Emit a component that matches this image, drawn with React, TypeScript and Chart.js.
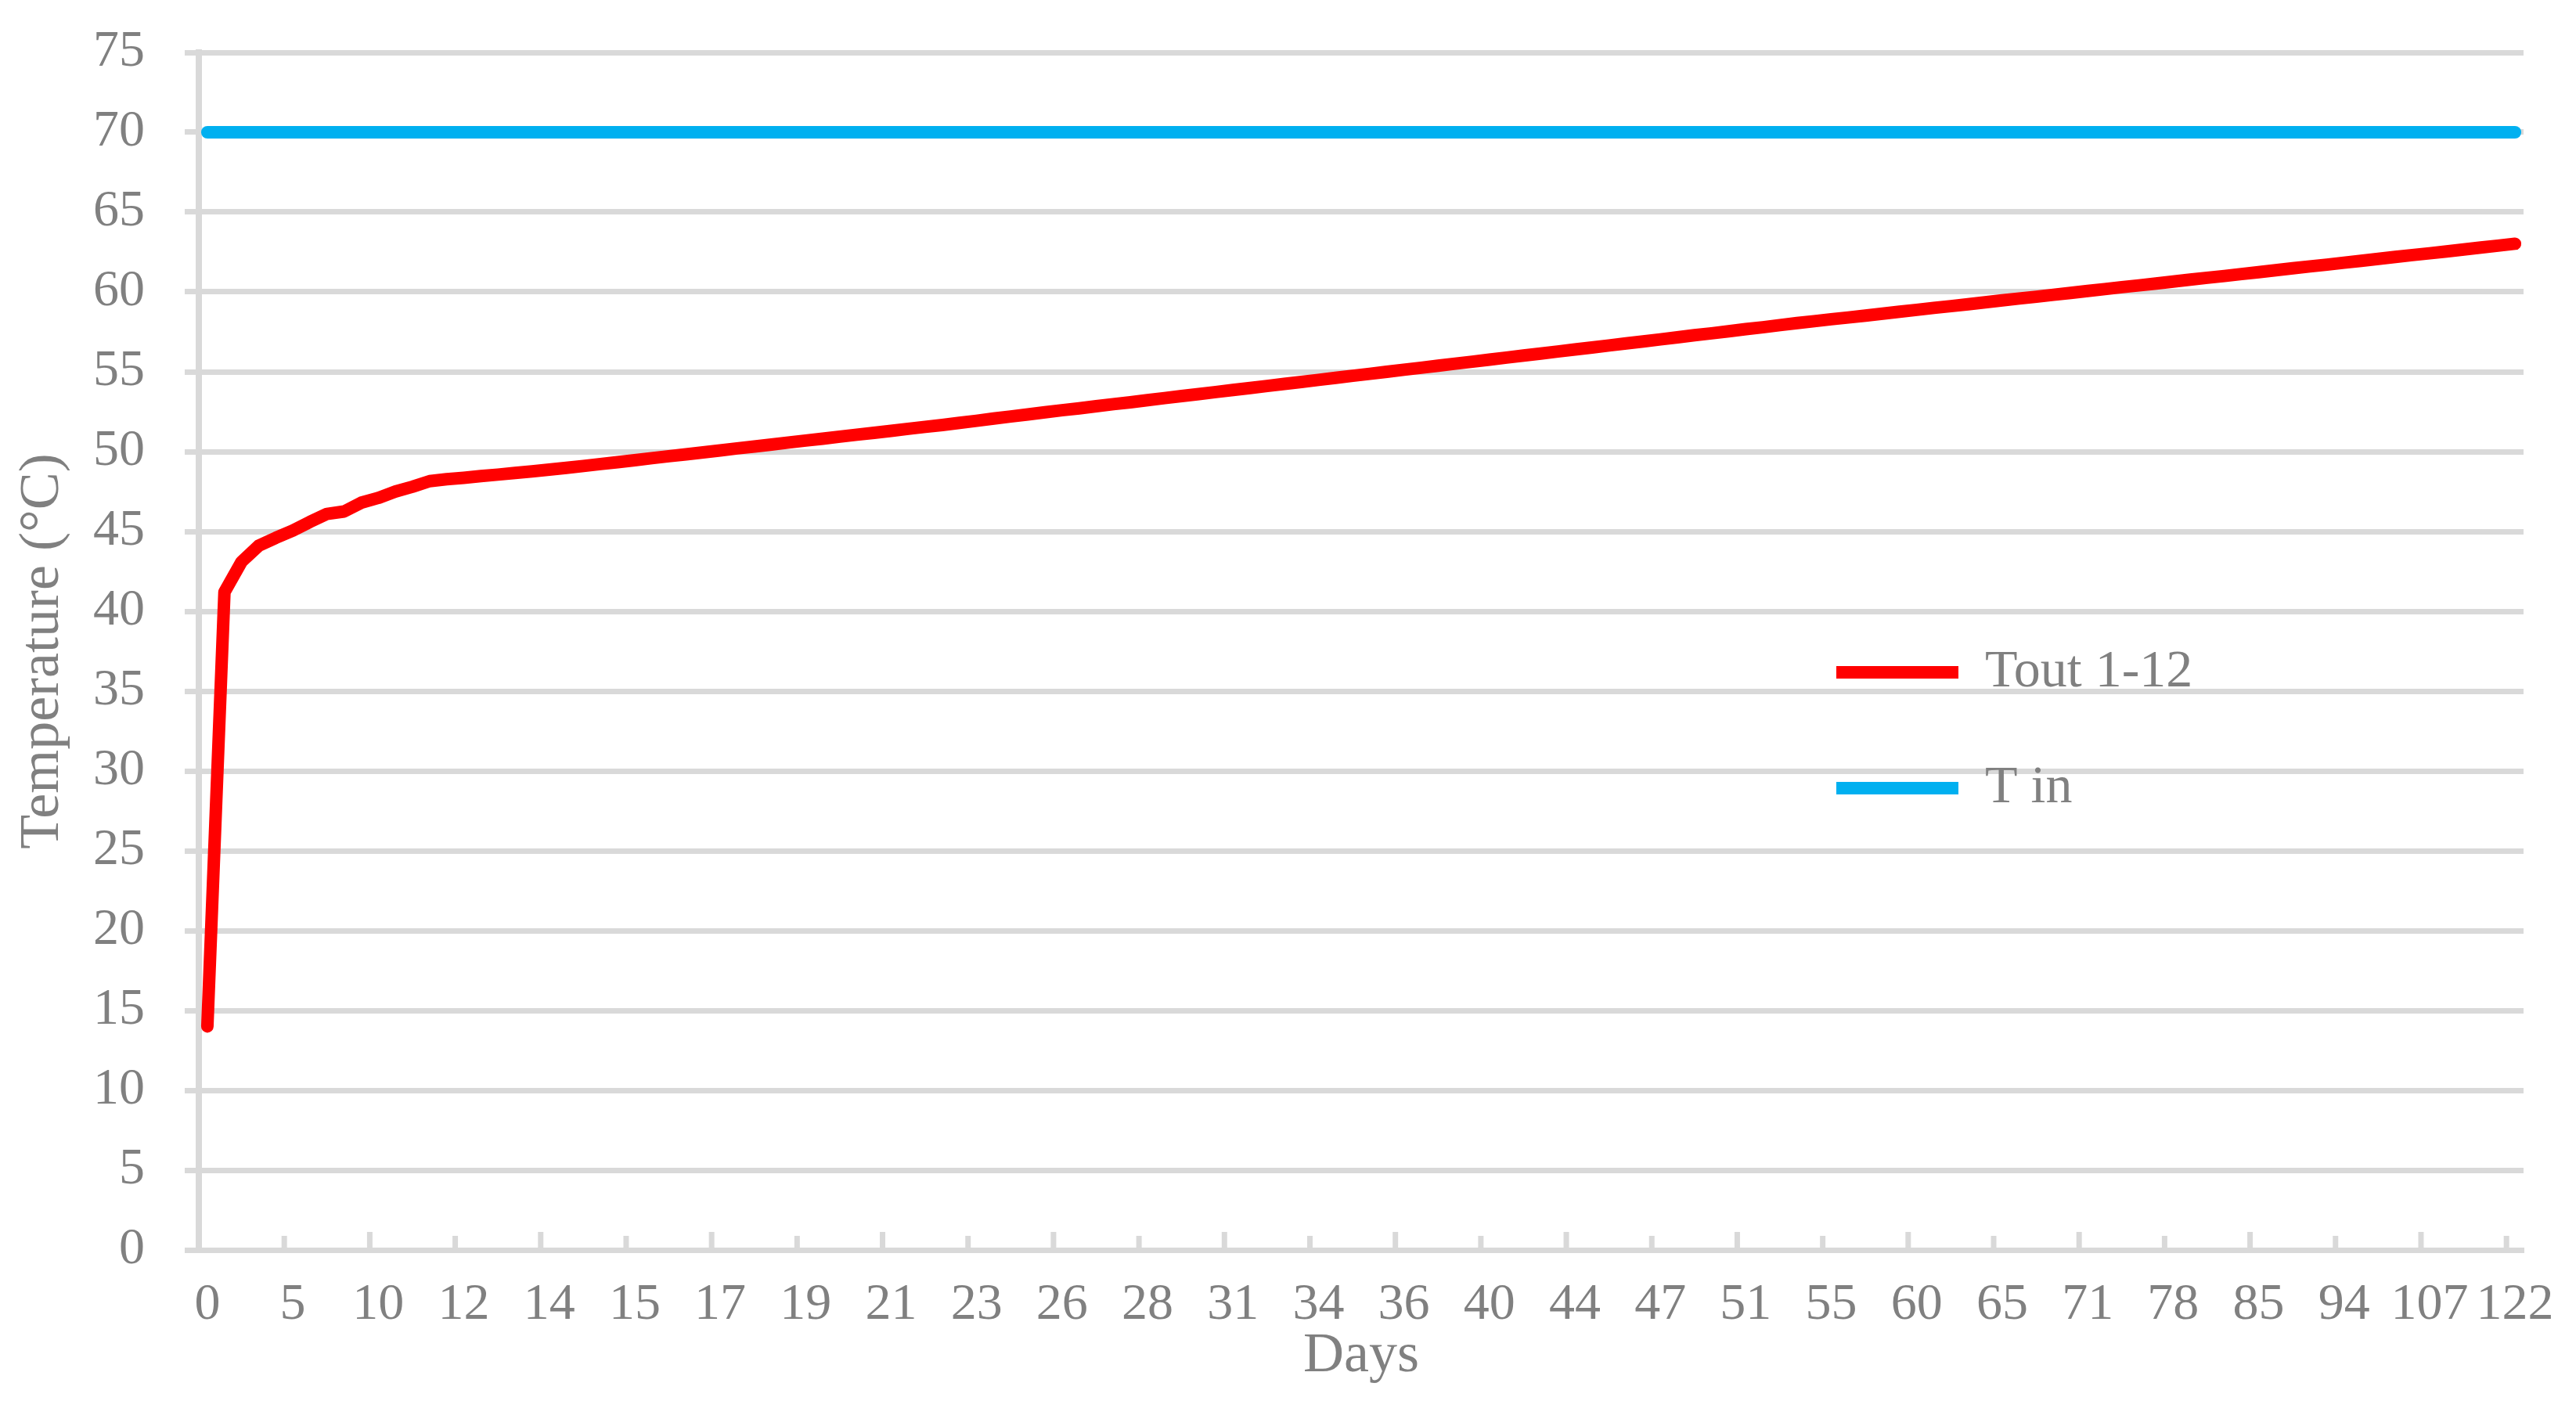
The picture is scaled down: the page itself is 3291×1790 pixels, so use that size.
import React, { useEffect, useRef } from 'react';
import { Chart, registerables } from 'chart.js';

Chart.register(...registerables);

// Day labels shown on the x axis (one every 5 categories)
const dayTicks = [0, 5, 10, 12, 14, 15, 17, 19, 21, 23, 26, 28, 31, 34, 36, 40, 44, 47, 51, 55, 60, 65, 71, 78, 85, 94, 107, 122];
const LABEL_EVERY = 5;

// Tout 1-12 (°C), one value per category
const toutValues = [
  14.0, 41.2, 43.1, 44.1, 44.6, 45.05, 45.6, 46.1, 46.25, 46.8,
  47.1, 47.5, 47.8, 48.15, 48.27, 48.36, 48.47, 48.56, 48.66, 48.76,
  48.87, 48.98, 49.1, 49.22, 49.34, 49.46, 49.59, 49.71, 49.83, 49.95,
  50.07, 50.2, 50.32, 50.44, 50.57, 50.69, 50.81, 50.94, 51.06, 51.18,
  51.3, 51.43, 51.55, 51.67, 51.8, 51.93, 52.07, 52.2, 52.33, 52.46,
  52.59, 52.71, 52.84, 52.97, 53.09, 53.22, 53.35, 53.48, 53.6, 53.73,
  53.86, 53.98, 54.11, 54.24, 54.36, 54.49, 54.62, 54.75, 54.87, 55.0,
  55.13, 55.25, 55.38, 55.51, 55.63, 55.76, 55.89, 56.02, 56.14, 56.27,
  56.4, 56.52, 56.65, 56.78, 56.9, 57.03, 57.16, 57.29, 57.41, 57.54,
  57.67, 57.79, 57.92, 58.05, 58.17, 58.29, 58.4, 58.52, 58.64, 58.76,
  58.88, 59.0, 59.11, 59.23, 59.35, 59.47, 59.59, 59.7, 59.82, 59.94,
  60.06, 60.18, 60.3, 60.41, 60.53, 60.65, 60.77, 60.89, 61.0, 61.12,
  61.24, 61.36, 61.48, 61.6, 61.71, 61.83, 61.95, 62.07, 62.19, 62.31,
  62.42, 62.54, 62.66, 62.78, 62.9, 63.02,
];

// T in (°C): constant
const tinValue = 70;
const tinValues = toutValues.map(() => tinValue);

const categories = toutValues.map((_, i) =>
  i % LABEL_EVERY === 0 ? String(dayTicks[i / LABEL_EVERY]) : ''
);

const Y_MIN = 0;
const Y_MAX = 75;
const Y_STEP = 5;

const GRID = '#d9d9d9';
const TEXT = '#808080';
const FONT = "'Liberation Serif', 'Times New Roman', serif";

const W = 3291;
const H = 1790;

// inner tick marks on the x axis (short every 5 categories, long every 10)
const xTickMarks = {
  id: 'xTickMarks',
  beforeDatasetsDraw(chart: any) {
    const x = chart.scales.x;
    const { ctx, chartArea } = chart;
    const step = x.getPixelForValue(1) - x.getPixelForValue(0);
    ctx.save();
    ctx.strokeStyle = GRID;
    ctx.lineWidth = 7;
    for (let k = LABEL_EVERY; k < categories.length; k += LABEL_EVERY) {
      const px = x.getPixelForValue(k) - step / 2;
      const len = k % (2 * LABEL_EVERY) === 0 ? 23 : 18;
      ctx.beginPath();
      ctx.moveTo(px, chartArea.bottom);
      ctx.lineTo(px, chartArea.bottom - len);
      ctx.stroke();
    }
    ctx.restore();
  },
};

// place the legend inside the plot, right of centre
const legendPlacer = {
  id: 'legendPlacer',
  beforeDraw(chart: any) {
    const lg = chart.legend;
    if (!lg) return;
    const ca = chart.chartArea;
    lg.left = 2266;
    lg.top = 745;
    lg.right = ca.right;
    lg.bottom = ca.bottom;
    lg.width = lg.right - lg.left;
    lg.height = lg.bottom - lg.top;
  },
};

export default function App() {
  const ref = useRef<HTMLCanvasElement | null>(null);

  useEffect(() => {
    if (!ref.current) return;
    const chart = new Chart(ref.current, {
      type: 'line',
      data: {
        labels: categories,
        datasets: [
          {
            label: 'Tout 1-12',
            data: toutValues,
            borderColor: '#ff0000',
            backgroundColor: '#ff0000',
            borderWidth: 16,
            borderCapStyle: 'round',
            borderJoinStyle: 'round',
            pointRadius: 0,
            tension: 0,
          },
          {
            label: 'T in',
            data: tinValues,
            borderColor: '#00b0f0',
            backgroundColor: '#00b0f0',
            borderWidth: 16,
            borderCapStyle: 'round',
            borderJoinStyle: 'round',
            pointRadius: 0,
            tension: 0,
          },
        ],
      },
      options: {
        responsive: false,
        animation: false,
        devicePixelRatio: 1,
        layout: { padding: { top: 67, right: 67, left: 0, bottom: 0 } },
        plugins: {
          tooltip: { enabled: false },
          legend: {
            position: 'chartArea',
            align: 'start',
            labels: {
              usePointStyle: true,
              pointStyle: 'line',
              pointStyleWidth: 156,
              padding: 80,
              color: TEXT,
              font: { family: FONT, size: 68 },
            },
          },
        },
        scales: {
          x: {
            type: 'category',
            offset: true,
            afterFit: (s: any) => {
              s.height = 193;
              s.paddingLeft = 0;
              s.paddingRight = 0;
            },
            grid: { display: true, drawOnChartArea: false, drawTicks: false },
            border: { display: true, color: GRID, width: 7 },
            ticks: {
              autoSkip: false,
              maxRotation: 0,
              minRotation: 0,
              padding: 31,
              color: TEXT,
              font: { family: FONT, size: 66 },
            },
            title: {
              display: true,
              text: 'Days',
              color: TEXT,
              font: { family: FONT, size: 72 },
              padding: { top: 0, bottom: 14 },
            },
          },
          y: {
            min: Y_MIN,
            max: Y_MAX,
            afterFit: (s: any) => {
              s.width = 254;
              s.paddingTop = 0;
              s.paddingBottom = 0;
            },
            grid: { color: GRID, lineWidth: 7, drawTicks: true, tickLength: 18, tickColor: GRID, tickWidth: 7 },
            border: { display: true, color: GRID, width: 8 },
            ticks: {
              stepSize: Y_STEP,
              padding: 51,
              color: TEXT,
              font: { family: FONT, size: 66 },
            },
            title: {
              display: true,
              text: 'Temperature (°C)',
              color: TEXT,
              font: { family: FONT, size: 72 },
              padding: { top: 12, bottom: 0 },
            },
          },
        },
      } as any,
      plugins: [xTickMarks, legendPlacer],
    });
    return () => chart.destroy();
  }, []);

  return (
    <div style={{ position: 'fixed', left: 0, top: 0, width: W, height: H, background: '#fff' }}>
      <canvas ref={ref} width={W} height={H} style={{ width: W, height: H, display: 'block' }} />
    </div>
  );
}
